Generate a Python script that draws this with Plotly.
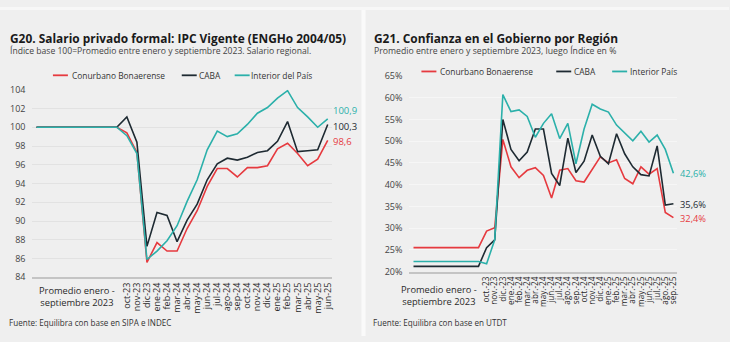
import plotly.graph_objects as go
from plotly.subplots import make_subplots

# ---------------- data ----------------
series_names = ["Conurbano Bonaerense", "CABA", "Interior del País"]
series_names_r = ["Conurbano Bonaerense", "CABA", "Interior País"]
colors = ["#e63a3f", "#1e2a32", "#2bb0aa"]

base_label = "Promedio enero -<br>septiembre 2023"
base_months = 9  # enero–septiembre 2023

# G20: salario privado formal, índice base 100
months_l = ["oct-23", "nov-23", "dic-23", "ene-24", "feb-24", "mar-24", "abr-24",
            "may-24", "jun-24", "jul-24", "ago-24", "sep-24", "oct-24", "nov-24",
            "dic-24", "ene-25", "feb-25", "mar-25", "abr-25", "may-25", "jun-25"]
base_l = [100, 100, 100]
conurbano_l = [99.4, 97.3, 85.6, 87.7, 86.8, 86.8, 89.2, 91.1, 93.7, 95.6, 95.6,
               94.7, 95.7, 95.7, 95.9, 97.7, 98.3, 97.2, 95.9, 96.6, 98.6]
caba_l = [101.1, 98.4, 87.3, 90.9, 90.6, 87.8, 90.1, 91.8, 94.4, 96.1, 96.7,
          96.5, 96.8, 97.3, 97.5, 98.5, 100.6, 97.4, 97.5, 97.6, 100.3]
interior_l = [99.1, 97.2, 85.9, 86.8, 87.9, 89.5, 92.1, 94.4, 97.6, 99.6, 99.0,
              99.3, 100.3, 101.5, 102.1, 103.1, 103.9, 102.1, 101.1, 100.0, 100.9]
yticks_l = [84, 86, 88, 90, 92, 94, 96, 98, 100, 102, 104]

# G21: confianza en el gobierno, %
months_r = ["oct.-23", "nov.-23", "dic.-23", "ene.-24", "feb.-24", "mar.-24", "abr.-24",
            "may.-24", "jun.-24", "jul.-24", "ago.-24", "sep.-24", "oct.-24", "nov.-24",
            "dic.-24", "ene.-25", "feb.-25", "mar.-25", "abr.-25", "may.-25", "jun.-25",
            "jul.-25", "ago.-25", "sep.-25"]
base_r = [25.5, 21.2, 22.3]
conurbano_r = [29.3, 30.1, 50.4, 44.1, 41.6, 43.3, 43.9, 42.1, 36.9, 43.3, 43.7, 40.9,
               40.6, 43.4, 46.4, 45.0, 45.7, 41.4, 40.2, 44.1, 42.4, 43.7, 33.6, 32.4]
caba_r = [25.5, 27.3, 55.0, 48.1, 45.5, 47.5, 52.8, 52.8, 42.6, 39.8, 50.7, 42.8,
          45.4, 51.4, 46.5, 44.8, 51.7, 47.1, 44.1, 42.3, 42.0, 48.9, 35.3, 35.6]
interior_r = [21.8, 27.3, 60.7, 56.8, 57.2, 55.7, 50.9, 54.1, 56.3, 50.6, 54.1, 44.8,
              52.8, 58.5, 57.4, 56.7, 53.7, 52.0, 50.1, 52.3, 49.8, 51.4, 48.1, 42.6]
yticks_r = [20, 25, 30, 35, 40, 45, 50, 55, 60, 65]

# ---------------- layout constants ----------------
W, H = 730, 342
BG = "#efefef"
FONT = "Open Sans"
TXT = "#2a2a2a"


def px(x):
    return x / W


def py(y):
    return 1 - y / H


fig = make_subplots(rows=1, cols=2)

lefts = [conurbano_l, caba_l, interior_l]
rights = [conurbano_r, caba_r, interior_r]

for col, (vals_all, bases, months) in enumerate(
        [(lefts, base_l, months_l), (rights, base_r, months_r)], start=1):
    xs_base = list(range(-base_months, 0))
    xs_m = list(range(len(months)))
    for k, vals in enumerate(vals_all):
        fig.add_trace(go.Scatter(
            x=xs_base + xs_m,
            y=[bases[k]] * base_months + vals,
            mode="lines",
            line=dict(color=colors[k], width=1.6),
            name=(series_names if col == 1 else series_names_r)[k],
            showlegend=False,
            hoverinfo="skip",
        ), row=1, col=col)

# axes
fig.update_xaxes(
    tickmode="array", tickangle=-90, showgrid=False, zeroline=False,
    showline=True, linecolor="#c4c4c4", linewidth=1.5, ticks="",
    tickfont=dict(family=FONT, size=9, color=TXT),
)
fig.update_xaxes(domain=[px(32.5), px(332.7)], range=[-9.4, 20.45],
                 tickvals=list(range(len(months_l))), ticktext=months_l, row=1, col=1)
fig.update_xaxes(domain=[px(410), px(678)], range=[-9.5, 23.45],
                 tickvals=list(range(len(months_r))), ticktext=months_r,
                 tickfont=dict(size=8.2), row=1, col=2)

fig.update_yaxes(showgrid=True, gridcolor="#e2e2e2", gridwidth=1, zeroline=False,
                 showline=False, ticks="", tickmode="array",
                 tickfont=dict(family=FONT, size=9, color="#444"))
fig.update_yaxes(domain=[py(281), py(86)], range=[84, 104], tickvals=yticks_l,
                 ticktext=[str(v) for v in yticks_l], ticklabelstandoff=6,
                 row=1, col=1)
fig.update_yaxes(domain=[py(275), py(71.7)], range=[20, 65], tickvals=yticks_r,
                 ticktext=[f"{v}%" for v in yticks_r], ticklabelstandoff=6,
                 gridcolor="#f6f6f6", row=1, col=2)

annotations = []


def text(x, y, s, size, color=TXT, bold=False, anchor="left"):
    annotations.append(dict(
        x=px(x), y=py(y), xref="paper", yref="paper", text=f"<b>{s}</b>" if bold else s,
        showarrow=False, xanchor=anchor, yanchor="middle",
        font=dict(family=FONT, size=size, color=color)))


# titles
text(8, 32, "G20. Salario privado formal: IPC Vigente (ENGHo 2004/05)", 11.9, "#1a1a1a", True)
text(8, 46, "Índice base 100=Promedio entre enero y septiembre 2023. Salario regional.",
     8.6, "#444")
text(373, 32, "G21. Confianza en el Gobierno por Región", 11.9, "#1a1a1a", True)
text(373, 46, "Promedio entre enero y septiembre 2023, luego Índice en %", 8.7, "#444")

# sources
text(7, 328, "Fuente: Equilibra con base en SIPA e INDEC", 8.1, "#333")
text(372, 328, "Fuente: Equilibra con base en UTDT", 8.1, "#333")

# base-period category labels
text(77, 301, base_label, 9.3, TXT, anchor="center")
text(440, 300, base_label, 9.3, TXT, anchor="center")

# legends
shapes = []
for (names, y, line_x, text_x) in [
        (series_names, 71, [53, 182, 235], [70, 197, 249]),
        (series_names_r, 67, [422, 557, 613], [439, 573, 629])]:
    for k, name in enumerate(names):
        shapes.append(dict(type="line", xref="paper", yref="paper",
                           x0=px(line_x[k]), x1=px(line_x[k] + 15), y0=py(y), y1=py(y),
                           line=dict(color=colors[k], width=1.8)))
        text(text_x[k], y, name, 8.4, "#333")


# end-of-line value labels
def fmt(v, suffix=""):
    return f"{v:.1f}".replace(".", ",") + suffix


for k, (vals, ys) in enumerate(zip(lefts, [-1.5, -2, 8.5])):
    annotations.append(dict(x=len(months_l) - 1, y=vals[-1], xref="x", yref="y",
                            text=fmt(vals[-1]), showarrow=False, xanchor="left",
                            yanchor="middle", xshift=3, yshift=ys,
                            font=dict(family=FONT, size=9.5, color=colors[k])))
for k, (vals, ys) in enumerate(zip(rights, [-1, -1, 0])):
    annotations.append(dict(x=len(months_r) - 1, y=vals[-1], xref="x2", yref="y2",
                            text=fmt(vals[-1], "%"), showarrow=False, xanchor="left",
                            yanchor="middle", xshift=5, yshift=ys,
                            font=dict(family=FONT, size=9.3, color=colors[k])))

# panel separator and top strip
shapes.append(dict(type="rect", xref="paper", yref="paper", x0=px(362), x1=px(366),
                   y0=0, y1=1, fillcolor="#fafafa", line=dict(width=0), layer="below"))
shapes.append(dict(type="rect", xref="paper", yref="paper", x0=0, x1=1,
                   y0=py(3), y1=1, fillcolor="#f7f7f7", line=dict(width=0), layer="below"))

fig.update_layout(
    width=W, height=H, margin=dict(l=0, r=0, t=0, b=0),
    paper_bgcolor=BG, plot_bgcolor=BG,
    annotations=annotations, shapes=shapes,
    font=dict(family=FONT),
)

fig.write_html("out.html")
